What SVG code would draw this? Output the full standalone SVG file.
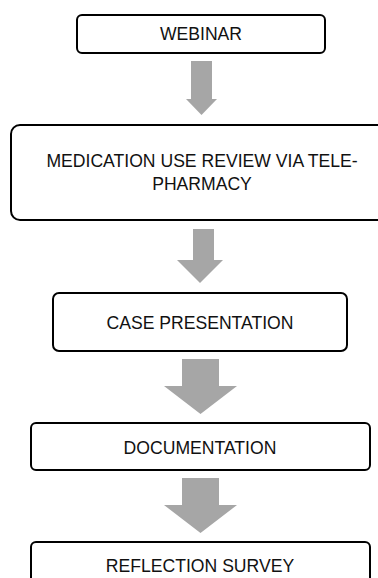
<svg xmlns="http://www.w3.org/2000/svg" width="378" height="578" viewBox="0 0 378 578">
<style>
.box{fill:#fff;stroke:#000;stroke-width:2}
.lbl{font-family:"Liberation Sans","Open Sans",sans-serif;font-size:17.6px;fill:#111;text-anchor:middle}
.arr{fill:#a6a6a6}
</style>
<rect width="378" height="578" fill="#fff"/>
<g id="connectors">
<polygon class="arr" points="191,61 212,61 212,99 217,99 201.5,115 186,99 191,99"/>
<polygon class="arr" points="193,229 214,229 214,260 223,260 200,283 177,260 193,260"/>
<polygon class="arr" points="182,359 219,359 219,386 237,386 200.5,414 164,386 182,386"/>
<polygon class="arr" points="182,478 219,478 219,505 237,505 200.5,533 164,505 182,505"/>
</g>
<g id="webinar">
<rect class="box" x="77" y="15" width="248" height="38" rx="5"/>
<text class="lbl" x="201" y="40">WEBINAR</text>
</g>
<g id="medication">
<rect class="box" x="11" y="125" width="376" height="95" rx="9"/>
<text class="lbl" x="202" y="167"><tspan x="202" y="167">MEDICATION USE REVIEW VIA TELE-</tspan><tspan x="202" y="190">PHARMACY</tspan></text>
</g>
<g id="case">
<rect class="box" x="53" y="293" width="294" height="58" rx="6"/>
<text class="lbl" x="200" y="329">CASE PRESENTATION</text>
</g>
<g id="documentation">
<rect class="box" x="31" y="423" width="339" height="47" rx="5"/>
<text class="lbl" x="200" y="454">DOCUMENTATION</text>
</g>
<g id="reflection">
<rect class="box" x="31" y="542" width="339" height="50" rx="5"/>
<text class="lbl" x="200" y="572">REFLECTION SURVEY</text>
</g>
</svg>
